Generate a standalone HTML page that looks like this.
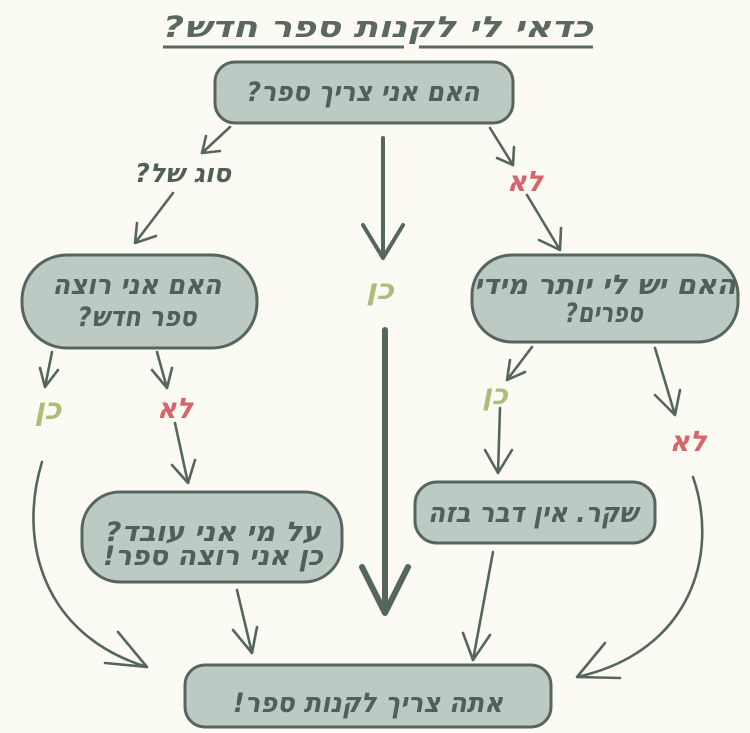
<!DOCTYPE html>
<html><head><meta charset="utf-8">
<style>
html,body{margin:0;padding:0;background:#fbfbf4;}
svg{display:block;}
.t{font-family:"DejaVu Sans","Liberation Sans",sans-serif;font-weight:bold;font-style:italic;fill:#525e58;}
.box{fill:#bccac3;stroke:#55665e;stroke-width:3;}
.a{fill:none;stroke:#55665e;stroke-width:2.6;stroke-linecap:round;stroke-linejoin:round;}
.g{fill:#aebc7a;}
.r{fill:#d8646b;}
</style></head>
<body>
<svg width="750" height="733" viewBox="0 0 750 733" xmlns="http://www.w3.org/2000/svg">
<rect width="750" height="733" fill="#fbfbf4"/>

<!-- title -->
<text class="t" x="378" y="37" font-size="29" text-anchor="middle" direction="rtl" textLength="430" lengthAdjust="spacingAndGlyphs" style="fill:#5b6761">כדאי לי לקנות ספר חדש?&#x200F;</text>
<path d="M163,47 L404,47 M419,47 L593,47" stroke="#5b6761" stroke-width="3" fill="none"/>

<!-- boxes -->
<rect class="box" x="215" y="62" width="298" height="61" rx="20"/>
<rect class="box" x="22" y="255" width="235" height="93" rx="45"/>
<rect class="box" x="472" y="255" width="266" height="87" rx="40"/>
<rect class="box" x="82" y="492" width="260" height="90" rx="38"/>
<rect class="box" x="415" y="482" width="240" height="61" rx="22"/>
<rect class="box" x="185" y="665" width="366" height="62" rx="20"/>

<!-- box texts -->
<text class="t" x="363" y="101" font-size="27" text-anchor="middle" direction="rtl" textLength="233" lengthAdjust="spacingAndGlyphs">האם אני צריך ספר?&#x200F;</text>
<text class="t" x="137" y="294" font-size="27" text-anchor="middle" direction="rtl" textLength="169" lengthAdjust="spacingAndGlyphs">האם אני רוצה</text>
<text class="t" x="137" y="326" font-size="27" text-anchor="middle" direction="rtl" textLength="119" lengthAdjust="spacingAndGlyphs">ספר חדש?&#x200F;</text>
<text class="t" x="605" y="294" font-size="27" text-anchor="middle" direction="rtl" textLength="262" lengthAdjust="spacingAndGlyphs">האם יש לי יותר מידי</text>
<text class="t" x="604" y="322" font-size="27" text-anchor="middle" direction="rtl" textLength="78" lengthAdjust="spacingAndGlyphs">ספרים?&#x200F;</text>
<text class="t" x="213" y="541" font-size="27" text-anchor="middle" direction="rtl" textLength="216" lengthAdjust="spacingAndGlyphs">על מי אני עובד?&#x200F;</text>
<text class="t" x="213" y="565" font-size="27" text-anchor="middle" direction="rtl" textLength="220" lengthAdjust="spacingAndGlyphs">כן אני רוצה ספר!&#x200F;</text>
<text class="t" x="533" y="522" font-size="27" text-anchor="middle" direction="rtl" textLength="210" lengthAdjust="spacingAndGlyphs">שקר. אין דבר בזה</text>
<text class="t" x="368" y="712" font-size="27" text-anchor="middle" direction="rtl" textLength="270" lengthAdjust="spacingAndGlyphs">אתה צריך לקנות ספר!&#x200F;</text>

<!-- labels -->
<text class="t" x="183" y="182" font-size="26" text-anchor="middle" direction="rtl" textLength="96" lengthAdjust="spacingAndGlyphs">סוג של?&#x200F;</text>
<text class="t r" x="525" y="191" font-size="28" text-anchor="middle" direction="rtl" textLength="36" lengthAdjust="spacingAndGlyphs">לא</text>
<text class="t g" x="380" y="299" font-size="28" text-anchor="middle" direction="rtl" textLength="28" lengthAdjust="spacingAndGlyphs">כן</text>
<text class="t g" x="48" y="419" font-size="30" text-anchor="middle" direction="rtl" textLength="27" lengthAdjust="spacingAndGlyphs">כן</text>
<text class="t r" x="175" y="418" font-size="28" text-anchor="middle" direction="rtl" textLength="36" lengthAdjust="spacingAndGlyphs">לא</text>
<text class="t g" x="495" y="404" font-size="28" text-anchor="middle" direction="rtl" textLength="26" lengthAdjust="spacingAndGlyphs">כן</text>
<text class="t r" x="688" y="451" font-size="28" text-anchor="middle" direction="rtl" textLength="37" lengthAdjust="spacingAndGlyphs">לא</text>

<!-- arrows -->
<path class="a" d="M230,127 L202,153 M206,136 L202,153 L220,151"/>
<path class="a" d="M173,193 L135,243 M137,223 L135,243 L156,236"/>
<path class="a" d="M490,128 L513,165 M514,147 L513,165 L497,158"/>
<path class="a" d="M527,195 L560,250 M561,228 L560,250 L539,240"/>
<path class="a" style="stroke-width:4" d="M383,138 L383,258 M363,225 L383,258 L403,225"/>
<path class="a" style="stroke-width:6" d="M385,330 L385,613 M362,567 L385,613 L408,567"/>
<path class="a" d="M52,352 L45,387 M40,368 L45,387 L58,370"/>
<path class="a" d="M157,352 L167,388 M152,370 L167,388 L172,368"/>
<path class="a" d="M175,423 L188,483 M172,465 L188,483 L195,460"/>
<path class="a" d="M42,462 C18,540 42,635 147,667 M118,632 L147,667 L105,663"/>
<path class="a" d="M237,590 L252,653 M233,630 L252,653 L257,627"/>
<path class="a" d="M532,347 L507,380 M510,360 L507,380 L525,372"/>
<path class="a" d="M500,408 L498,473 M485,450 L498,473 L512,450"/>
<path class="a" d="M655,348 L675,415 M655,395 L675,415 L680,390"/>
<path class="a" d="M693,477 C720,555 690,652 577,677 M605,643 L577,677 L620,678"/>
<path class="a" d="M493,552 L473,660 M463,633 L473,660 L490,635"/>
</svg>
</body></html>
